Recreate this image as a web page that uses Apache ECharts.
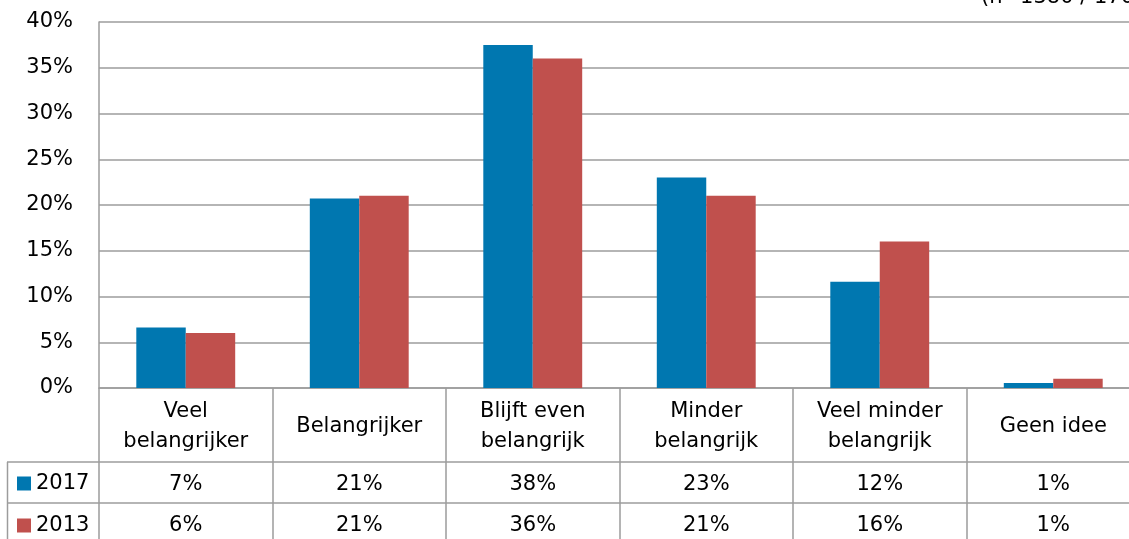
<!DOCTYPE html>
<html>
<head>
<meta charset="utf-8">
<script src="https://cdn.jsdelivr.net/npm/echarts@6/dist/echarts.min.js"></script>
<style>html,body{margin:0;padding:0;background:#fff}#c{width:1129px;height:539px}</style>
</head>
<body>
<div id="c"></div>
<script>
const categories = ['Veel\nbelangrijker', 'Belangrijker', 'Blijft even\nbelangrijk', 'Minder\nbelangrijk', 'Veel minder\nbelangrijk', 'Geen idee'];
const seriesNames = ['2017', '2013'];
const values2017 = [6.6, 20.7, 37.5, 23.0, 11.6, 0.55];
const values2013 = [6.0, 21.0, 36.0, 21.0, 16.0, 1.0];
const noteText = '(n=1380 / 1700)';

const FONT = 'DejaVu Sans';
const FS = 21;
const GRAY = '#9c9c9c';
const fmt = v => Math.round(v) + '%';

const chart = echarts.init(document.getElementById('c'), null, {renderer: 'canvas'});
const hiddenAxisBase = {
  type: 'category', gridIndex: 0, position: 'bottom', offset: 0,
  axisLine: {show: false}, axisTick: {show: false}, splitLine: {show: false}
};
chart.setOption({
  animation: false,
  textStyle: {fontFamily: FONT},
  grid: {left: 99, top: 22, width: 1041, height: 366, containLabel: false, outerBoundsMode: 'none'},
  legend: {
    data: seriesNames, orient: 'vertical', left: 17, top: 473, padding: 0,
    itemWidth: 14, itemHeight: 14, itemGap: 21, icon: 'rect',
    textStyle: {fontFamily: FONT, fontSize: FS, color: '#000', lineHeight: 20}
  },
  xAxis: [
    {
      type: 'category', data: categories, position: 'bottom',
      axisLine: {show: true, lineStyle: {color: GRAY, width: 1.5}},
      axisTick: {show: true, interval: 0, length: 152, lineStyle: {color: GRAY, width: 1.5}},
      axisLabel: {interval: 0, margin: 39, verticalAlign: 'middle', fontSize: FS, lineHeight: 30, color: '#000', fontFamily: FONT}
    },
    Object.assign({}, hiddenAxisBase, {
      data: values2017.map(fmt),
      axisLabel: {interval: 0, margin: 97, verticalAlign: 'middle', fontSize: FS, color: '#000', fontFamily: FONT}
    }),
    Object.assign({}, hiddenAxisBase, {
      data: values2013.map(fmt),
      axisLabel: {interval: 0, margin: 138, verticalAlign: 'middle', fontSize: FS, color: '#000', fontFamily: FONT}
    })
  ],
  yAxis: {
    type: 'value', min: 0, max: 40, interval: 5,
    axisLine: {show: true, lineStyle: {color: GRAY, width: 1.5}},
    axisTick: {show: false},
    splitLine: {show: true, lineStyle: {color: GRAY, width: 1.5}},
    axisLabel: {formatter: '{value}%', margin: 26, fontSize: FS, color: '#000', fontFamily: FONT}
  },
  series: [
    {name: seriesNames[0], type: 'bar', data: values2017, barGap: '0%', barCategoryGap: '43%',
     itemStyle: {color: '#0077b0'}},
    {name: seriesNames[1], type: 'bar', data: values2013, barGap: '0%', barCategoryGap: '43%',
     itemStyle: {color: '#c0504d'}}
  ],
  graphic: [
    {type: 'line', shape: {x1: 7, y1: 462, x2: 1129, y2: 462}, style: {stroke: GRAY, lineWidth: 1.5}},
    {type: 'line', shape: {x1: 7, y1: 503, x2: 1129, y2: 503}, style: {stroke: GRAY, lineWidth: 1.5}},
    {type: 'line', shape: {x1: 7.5, y1: 462, x2: 7.5, y2: 539}, style: {stroke: GRAY, lineWidth: 1.5}},
    {type: 'text', x: 981, y: 8, style: {text: noteText, fontFamily: FONT, fontSize: FS, fill: '#000', verticalAlign: 'bottom'}}
  ]
});
</script>
</body>
</html>
